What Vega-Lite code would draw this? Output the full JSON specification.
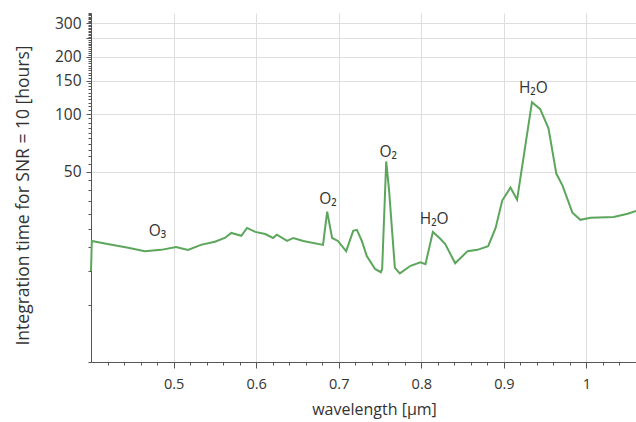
{
  "$schema": "https://vega.github.io/schema/vega-lite/v6.json",
  "width": 545,
  "height": 349,
  "autosize": {"type": "none"},
  "padding": {"left": 91, "top": 13, "right": 0, "bottom": 60},
  "config": {
    "font": "Open Sans",
    "view": {"stroke": null},
    "axis": {"domainColor": "#555", "tickColor": "#555", "labelColor": "#333", "titleColor": "#333", "gridColor": "#dedede", "labelFont": "Open Sans", "titleFont": "Open Sans", "titleFontWeight": "normal"}
  },
  "datasets": {
    "curve": [
      {"wavelength": 0.400, "time": 15.0}, {"wavelength": 0.401, "time": 21.6}, {"wavelength": 0.420, "time": 20.8},
      {"wavelength": 0.445, "time": 19.9}, {"wavelength": 0.465, "time": 19.1}, {"wavelength": 0.485, "time": 19.4},
      {"wavelength": 0.503, "time": 20.1}, {"wavelength": 0.5175, "time": 19.4}, {"wavelength": 0.533, "time": 20.6},
      {"wavelength": 0.550, "time": 21.4}, {"wavelength": 0.562, "time": 22.4}, {"wavelength": 0.570, "time": 23.8},
      {"wavelength": 0.582, "time": 23.0}, {"wavelength": 0.589, "time": 25.3}, {"wavelength": 0.599, "time": 24.1},
      {"wavelength": 0.611, "time": 23.5}, {"wavelength": 0.6205, "time": 22.4}, {"wavelength": 0.625, "time": 23.3},
      {"wavelength": 0.6375, "time": 21.6}, {"wavelength": 0.645, "time": 22.4}, {"wavelength": 0.657, "time": 21.6},
      {"wavelength": 0.681, "time": 20.6}, {"wavelength": 0.686, "time": 30.8}, {"wavelength": 0.692, "time": 22.4},
      {"wavelength": 0.699, "time": 21.6}, {"wavelength": 0.709, "time": 19.1}, {"wavelength": 0.7175, "time": 24.4},
      {"wavelength": 0.722, "time": 24.7}, {"wavelength": 0.728, "time": 21.6}, {"wavelength": 0.734, "time": 18.0},
      {"wavelength": 0.744, "time": 15.4}, {"wavelength": 0.751, "time": 14.8}, {"wavelength": 0.7526, "time": 15.4},
      {"wavelength": 0.7575, "time": 56.5}, {"wavelength": 0.761, "time": 39.7}, {"wavelength": 0.768, "time": 15.6},
      {"wavelength": 0.774, "time": 14.6}, {"wavelength": 0.787, "time": 16.0}, {"wavelength": 0.799, "time": 16.7},
      {"wavelength": 0.805, "time": 16.3}, {"wavelength": 0.814, "time": 24.1}, {"wavelength": 0.823, "time": 22.2},
      {"wavelength": 0.829, "time": 20.8}, {"wavelength": 0.841, "time": 16.5}, {"wavelength": 0.856, "time": 19.1},
      {"wavelength": 0.868, "time": 19.4}, {"wavelength": 0.881, "time": 20.3}, {"wavelength": 0.890, "time": 25.3},
      {"wavelength": 0.898, "time": 35.2}, {"wavelength": 0.908, "time": 41.2}, {"wavelength": 0.916, "time": 35.6},
      {"wavelength": 0.934, "time": 115.7}, {"wavelength": 0.944, "time": 106.3}, {"wavelength": 0.954, "time": 84.3},
      {"wavelength": 0.9635, "time": 48.8}, {"wavelength": 0.971, "time": 42.2}, {"wavelength": 0.983, "time": 30.4},
      {"wavelength": 0.9926, "time": 27.9}, {"wavelength": 1.005, "time": 28.6}, {"wavelength": 1.033, "time": 28.9},
      {"wavelength": 1.050, "time": 30.0}, {"wavelength": 1.060, "time": 31.1}
    ],
    "labels": [
      {"wavelength": 0.4805, "time": 24.4, "label": "O₃"},
      {"wavelength": 0.687, "time": 36.0, "label": "O₂"},
      {"wavelength": 0.760, "time": 63.0, "label": "O₂"},
      {"wavelength": 0.8156, "time": 28.2, "label": "H₂O"},
      {"wavelength": 0.9357, "time": 137, "label": "H₂O"}
    ]
  },
  "resolve": {"axis": {"x": "independent", "y": "independent"}},
  "layer": [
    {
      "data": {"name": "curve"},
      "mark": {"type": "line", "opacity": 0},
      "encoding": {
        "x": {"field": "wavelength", "type": "quantitative", "scale": {"domain": [0.4, 1.06], "nice": false, "zero": false},
          "axis": {"orient": "bottom", "title": null, "labels": false, "grid": true, "domain": false, "ticks": false,
            "values": [0.5, 0.6, 0.7, 0.8, 0.9, 1.0]}},
        "y": {"field": "time", "type": "quantitative", "scale": {"type": "log", "domain": [5, 340], "nice": false},
          "axis": {"orient": "left", "title": null, "labels": false, "grid": true, "domain": false, "ticks": false,
            "values": [50, 100, 150, 200, 250, 300]}}
      }
    },
    {
      "data": {"name": "curve"},
      "mark": {"type": "line", "opacity": 0},
      "encoding": {
        "x": {"field": "wavelength", "type": "quantitative", "scale": {"domain": [0.4, 1.06], "nice": false, "zero": false},
          "axis": {"orient": "bottom", "title": null, "labels": false, "grid": false, "domain": false, "tickSize": 3,
            "values": [0.42,0.44,0.46,0.48,0.52,0.54,0.56,0.58,0.62,0.64,0.66,0.68,0.72,0.74,0.76,0.78,0.82,0.84,0.86,0.88,0.92,0.94,0.96,0.98,1.02,1.04]}},
        "y": {"field": "time", "type": "quantitative", "scale": {"type": "log", "domain": [5, 340], "nice": false},
          "axis": {"orient": "left", "title": null, "labels": false, "grid": false, "domain": false, "tickSize": 3,
            "values": [5,10,15,20,25,30,35,40,45,55,60,65,70,75,80,85,90,95,105,110,115,120,125,130,135,140,145,155,160,165,170,175,180,185,190,195,205,210,215,220,225,230,235,240,245,255,260,265,270,275,280,285,290,295,305,310,315,320,325,330,335,340]}}
      }
    },
    {
      "data": {"name": "curve"},
      "mark": {"type": "line", "color": "#5ca65c", "strokeWidth": 2},
      "encoding": {
        "x": {"field": "wavelength", "type": "quantitative", "scale": {"domain": [0.4, 1.06], "nice": false, "zero": false},
          "axis": {"orient": "bottom", "title": "wavelength [μm]", "grid": false, "values": [0.5, 0.6, 0.7, 0.8, 0.9, 1.0], "labelFontSize": 14.5, "titleFontSize": 16, "tickSize": 6, "labelPadding": 9, "titlePadding": 11, "titleX": 283, "labelExpr": "datum.value == 1 ? '1' : format(datum.value, '.1f')"}},
        "y": {"field": "time", "type": "quantitative", "scale": {"type": "log", "domain": [5, 340], "nice": false},
          "axis": {"orient": "left", "title": "Integration time for SNR = 10 [hours]", "grid": false, "values": [50, 100, 150, 200, 250, 300], "labelFontSize": 15.5, "titleFontSize": 17.5, "tickSize": 5, "labelPadding": 5, "titlePadding": 22, "titleY": 182, "labelExpr": "datum.value == 250 ? '' : datum.label"}}
      }
    },
    {
      "data": {"name": "labels"},
      "mark": {"type": "text", "fontSize": 15.5, "color": "#333", "baseline": "middle", "align": "center"},
      "encoding": {
        "x": {"field": "wavelength", "type": "quantitative", "axis": null},
        "y": {"field": "time", "type": "quantitative", "scale": {"type": "log"}, "axis": null},
        "text": {"field": "label"}
      }
    }
  ]
}
